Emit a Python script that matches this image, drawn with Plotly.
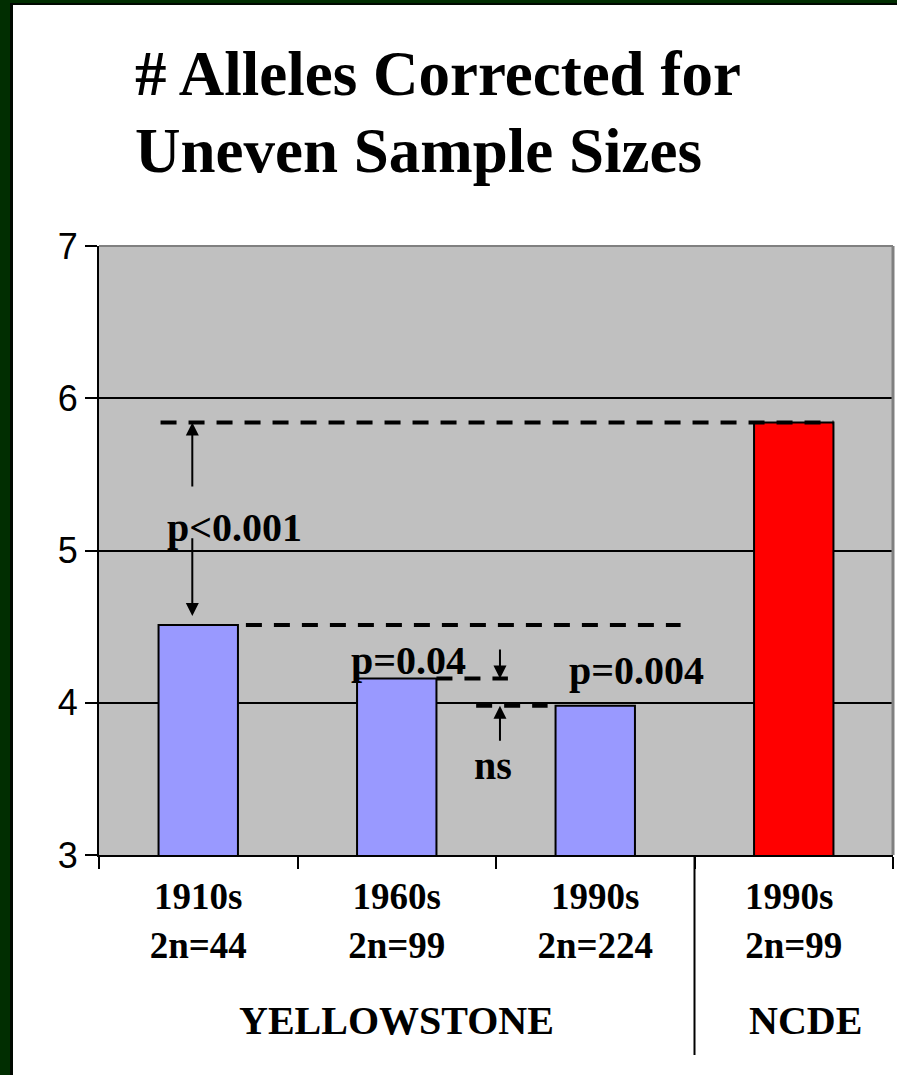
import plotly.graph_objects as go

# ---- data ----
categories = ["1910s<br>2n=44", "1960s<br>2n=99", "1990s<br>2n=224", "1990s <br>2n=99"]
values = [4.51, 4.16, 3.98, 5.84]
bar_colors = ["#9999FF", "#9999FF", "#9999FF", "#FF0000"]
y_ticks = [3, 4, 5, 6, 7]
group_labels = ["YELLOWSTONE", "NCDE"]
p_labels = ["p<0.001", "p=0.04", "p=0.004", "ns"]
title_lines = ["# Alleles Corrected for", "Uneven Sample Sizes"]

W, H = 897, 1075
L, R, T, B = 99, 4, 246, 220
pw, ph = W - L - R, H - T - B

def px_x(p):  # pixel -> paper x
    return (p - L) / pw

def px_y(p):  # pixel -> paper y
    return (H - B - p) / ph

serif = "Liberation Serif, Tinos, Times New Roman, serif"
sans = "Liberation Sans, Arimo, Arial, sans-serif"

fig = go.Figure()
fig.add_trace(go.Bar(
    x=categories, y=values, width=0.4,
    marker=dict(color=bar_colors, line=dict(color="black", width=2)),
    showlegend=False, hoverinfo="skip",
))

shapes = []
shapes.append(dict(type="rect", xref="paper", yref="paper", x0=px_x(0), x1=px_x(10),
                   y0=px_y(H), y1=px_y(0), fillcolor="#012e01", line_width=0, layer="below"))
shapes.append(dict(type="rect", xref="paper", yref="paper", x0=px_x(10), x1=px_x(13),
                   y0=px_y(H), y1=px_y(0), fillcolor="#000800", line_width=0, layer="below"))
shapes.append(dict(type="rect", xref="paper", yref="paper", x0=px_x(0), x1=px_x(W),
                   y0=px_y(3), y1=px_y(0), fillcolor="#012e01", line_width=0, layer="below"))
shapes.append(dict(type="rect", xref="paper", yref="paper", x0=px_x(10), x1=px_x(W),
                   y0=px_y(5), y1=px_y(3), fillcolor="#000800", line_width=0, layer="below"))
shapes.append(dict(type="line", xref="paper", yref="paper", x0=0, x1=1, y0=1, y1=1,
                   line=dict(color="#808080", width=2), layer="above"))
shapes.append(dict(type="line", xref="paper", yref="paper", x0=1, x1=1, y0=0, y1=1,
                   line=dict(color="#808080", width=3), layer="above"))
shapes.append(dict(type="line", xref="x", yref="paper", x0=2.5, x1=2.5, y0=0, y1=px_y(1055),
                   line=dict(color="black", width=2)))
dash = "16px,12px"
for x0, x1, yv in [(-0.19, 3.2, values[3]), (0.24, 2.43, values[0]),
                   (1.2, 1.56, values[1]), (1.4, 1.76, values[2])]:
    shapes.append(dict(type="line", xref="x", yref="y", x0=x0, x1=x1, y0=yv, y1=yv,
                       line=dict(color="black", width=4, dash=dash), layer="above"))

annotations = []
for line, ypx in zip(title_lines, [74, 151]):
    annotations.append(dict(text="<b>%s</b>" % line, xref="paper", yref="paper",
                            x=px_x(133), y=px_y(ypx), xanchor="left", yanchor="middle",
                            showarrow=False,
                            font=dict(family=serif, size=63, color="black")))
annotations.append(dict(text="<b>%s</b>" % group_labels[0], xref="x", yref="paper",
                        x=1.0, y=px_y(1021), yanchor="middle", showarrow=False,
                        font=dict(family=serif, size=40, color="black")))
annotations.append(dict(text="<b>%s</b>" % group_labels[1], xref="x", yref="paper",
                        x=3.06, y=px_y(1021), yanchor="middle", showarrow=False,
                        font=dict(family=serif, size=40, color="black")))
for txt, x, y in [(p_labels[0], 0.185, 5.15), (p_labels[1], 1.057, 4.28),
                  (p_labels[2], 2.21, 4.21), (p_labels[3], 1.485, 3.59)]:
    annotations.append(dict(text="<b>%s</b>" % txt, xref="x", yref="y", x=x, y=y,
                            showarrow=False, font=dict(family=serif, size=40, color="black")))
for xa, ytail, yhead in [(-0.03, 5.41, 5.84), (-0.03, 5.09, 4.57),
                         (1.52, 4.36, 4.16), (1.52, 3.74, 3.98)]:
    annotations.append(dict(x=xa, y=yhead, ax=xa, ay=ytail, xref="x", yref="y",
                            axref="x", ayref="y", text="", showarrow=True,
                            arrowhead=2, arrowsize=1.3, arrowwidth=2, arrowcolor="black"))

fig.update_layout(
    width=W, height=H,
    margin=dict(l=L, r=R, t=T, b=B, pad=0),
    paper_bgcolor="white", plot_bgcolor="#C0C0C0",
    shapes=shapes, annotations=annotations,
    xaxis=dict(type="category", range=[-0.5, 3.5], tickson="boundaries",
               ticks="outside", ticklen=12, tickwidth=2, tickcolor="black",
               ticklabelstandoff=8,
               showline=True, linecolor="black", linewidth=2, showgrid=False,
               tickfont=dict(family=serif, size=37, color="black", weight="bold"),
               fixedrange=True),
    yaxis=dict(range=[3, 7], tickvals=y_ticks, ticks="outside", ticklen=12,
               tickwidth=2, tickcolor="black", showline=True, linecolor="black",
               linewidth=2, showgrid=True, gridcolor="black", gridwidth=2,
               zeroline=False, tickfont=dict(family=sans, size=36, color="black"),
               fixedrange=True),
)

fig.write_html("out.html")
